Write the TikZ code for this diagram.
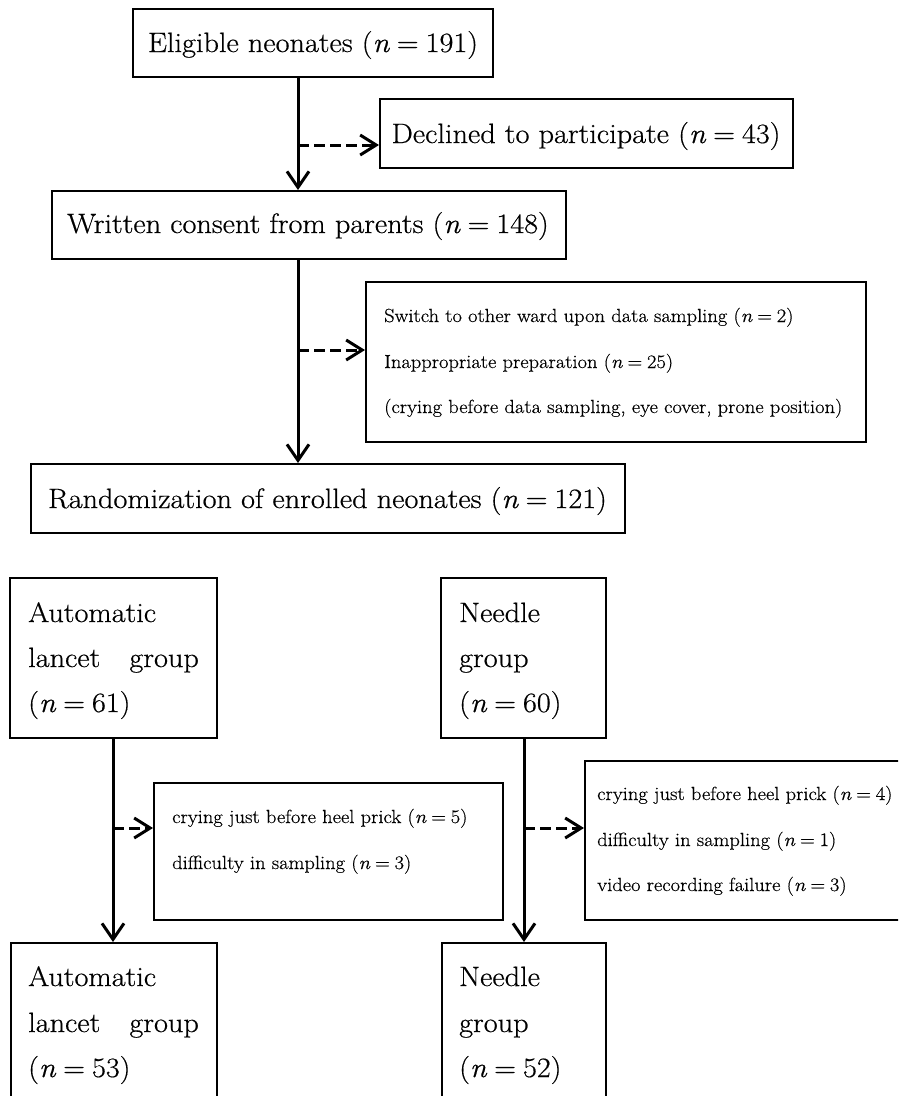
\documentclass[tikz,border=0pt]{standalone}
\usepackage{fontspec}
\setmainfont{Latin Modern Roman}[FakeStretch=1.08, FakeBold=0.5]
\usetikzlibrary{arrows.meta}
\newcommand{\nval}[1]{(\textit{n}\hspace{0.25em}=\hspace{0.25em}#1)}
\tikzset{
  box/.style={draw, rectangle, line width=2pt, inner sep=0pt},
  big/.style={font=\fontsize{28}{34}\selectfont, inner sep=0pt},
  small/.style={font=\fontsize{19}{23}\selectfont, inner sep=0pt},
  flow/.style={line width=3pt, -{Straight Barb[length=16pt,width=22pt]}},
  excl/.style={line width=3pt, dash pattern=on 11pt off 5pt, -{Straight Barb[length=16pt,width=20pt]}},
}
\begin{document}
\begin{tikzpicture}[x=1pt,y=-1pt]
\useasboundingbox (0,0) rectangle (898,1096);
\clip (0,0) rectangle (898,1096);
% boxes
\node[box, minimum width=360pt, minimum height=68pt] (E) at (313,43) {};
\node[box, minimum width=413pt, minimum height=69pt] (D) at (586.5,133.5) {};
\node[box, minimum width=514pt, minimum height=68pt] (C) at (309,225) {};
\node[box, minimum width=500pt, minimum height=160pt] (X1) at (616,362) {};
\node[box, minimum width=594pt, minimum height=69pt] (R) at (328,498.5) {};
\node[box, minimum width=207pt, minimum height=160pt] (A1) at (113.5,658) {};
\node[box, minimum width=165pt, minimum height=160pt] (N1) at (523.5,658) {};
\node[box, minimum width=349pt, minimum height=137pt] (XA) at (328.5,851.5) {};
\node[box, minimum width=340pt, minimum height=159pt] (XB) at (755,840.5) {};
\node[box, minimum width=206pt, minimum height=167pt] (A2) at (114,1026.5) {};
\node[box, minimum width=164pt, minimum height=167pt] (N2) at (524,1026.5) {};
% texts
\node[big, anchor=base] (tE) at (313,52) {Eligible neonates \nval{191}};
\node[big, anchor=base] (tD) at (586,143) {Declined to participate \nval{43}};
\node[big, anchor=base] (tC) at (308,233) {Written consent from parents \nval{148}};
\node[big, anchor=base] (tR) at (327.5,508) {Randomization of enrolled neonates \nval{121}};
\node[small, anchor=base west] (tX1a) at (384,322) {Switch to other ward upon data sampling \nval{2}};
\node[small, anchor=base west] (tX1b) at (384,368) {Inappropriate preparation \nval{25}};
\node[small, anchor=base west] (tX1c) at (384,413) {(crying before data sampling, eye cover, prone position)};
\node[big, anchor=base west] (tA1a) at (28,622) {Automatic};
\node[big, anchor=base west] (tA1b) at (28,667) {lancet\hspace{20pt} group};
\node[big, anchor=base west] (tA1c) at (28,712) {\nval{61}};
\node[big, anchor=base west] (tN1a) at (459,622) {Needle};
\node[big, anchor=base west] (tN1b) at (459,667) {group};
\node[big, anchor=base west] (tN1c) at (459,712) {\nval{60}};
\node[small, anchor=base west] (tXAa) at (172,823) {crying just before heel prick \nval{5}};
\node[small, anchor=base west] (tXAb) at (172,869) {difficulty in sampling \nval{3}};
\node[small, anchor=base west] (tXBa) at (597,800) {crying just before heel prick \nval{4}};
\node[small, anchor=base west] (tXBb) at (597,846) {difficulty in sampling \nval{1}};
\node[small, anchor=base west] (tXBc) at (597,891) {video recording failure \nval{3}};
\node[big, anchor=base west] (tA2a) at (28,986) {Automatic};
\node[big, anchor=base west] (tA2b) at (28,1032) {lancet\hspace{20pt} group};
\node[big, anchor=base west] (tA2c) at (28,1077) {\nval{53}};
\node[big, anchor=base west] (tN2a) at (459,986) {Needle};
\node[big, anchor=base west] (tN2b) at (459,1032) {group};
\node[big, anchor=base west] (tN2c) at (459,1077) {\nval{52}};
% connector helpers
\coordinate (m) at (298,0);
\coordinate (ma) at (113,0);
\coordinate (mn) at (524,0);
\coordinate (d1) at (298,145);
\coordinate (d2) at (298,350);
\coordinate (d3) at (113,828);
\coordinate (d4) at (524,828);
% connectors
\draw[flow] (E.south -| m) -- (C.north -| m);
\draw[flow] (C.south -| m) -- (R.north -| m);
\draw[flow] (A1.south -| ma) -- (A2.north -| ma);
\draw[flow] (N1.south -| mn) -- (N2.north -| mn);
\draw[excl] (d1) -- (d1 -| D.west);
\draw[excl] (d2) -- (d2 -| X1.west);
\draw[excl] (d3) -- (d3 -| XA.west);
\draw[excl] (d4) -- (d4 -| XB.west);
\end{tikzpicture}
\end{document}
